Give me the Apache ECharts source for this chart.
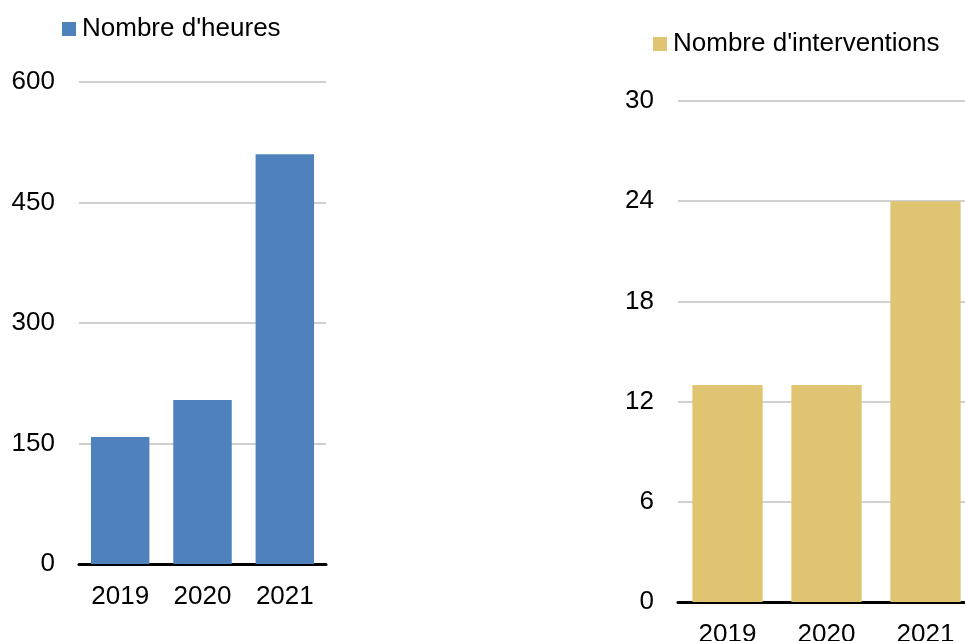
<!DOCTYPE html>
<html>
<head>
<meta charset="utf-8">
<script src="https://cdn.jsdelivr.net/npm/echarts@6/dist/echarts.min.js"></script>
<style>
  html, body { margin: 0; padding: 0; background: #fff; }
  #main { width: 965px; height: 641px; }
</style>
</head>
<body>
<div id="main"></div>
<script>
// data
var years = ["2019", "2020", "2021"];
var heures = [158, 204, 510];
var interventions = [13, 13, 24];

var font = "Liberation Sans, Arial, sans-serif";
var chart = echarts.init(document.getElementById("main"));

function xAxisFor(gridIndex) {
  return {
    type: "category",
    gridIndex: gridIndex,
    data: years,
    axisTick: { show: false },
    axisLine: { lineStyle: { color: "#000", width: 3 } },
    axisLabel: { color: "#000", fontSize: 26, fontFamily: font, margin: 20 }
  };
}
function yAxisFor(gridIndex, max, interval) {
  return {
    type: "value",
    gridIndex: gridIndex,
    min: 0,
    max: max,
    interval: interval,
    axisLine: { show: false },
    axisTick: { show: false },
    splitLine: { lineStyle: { color: "#c0c0c0", width: 1.5 } },
    axisLabel: { color: "#000", fontSize: 26, fontFamily: font, margin: 24, padding: [3, 0, 0, 0] }
  };
}

chart.setOption({
  animation: false,
  grid: [
    { left: 79, width: 247, top: 82, height: 482, outerBoundsMode: "none" },
    { left: 678, width: 297, top: 101, height: 501, outerBoundsMode: "none" }
  ],
  legend: [
    {
      data: ["Nombre d'heures"],
      left: 57, top: 11,
      itemWidth: 14, itemHeight: 14, icon: "rect",
      textStyle: { color: "#000", fontSize: 26, fontFamily: font, padding: [0, 0, 0, 1] }
    },
    {
      data: ["Nombre d'interventions"],
      left: 648, top: 26,
      itemWidth: 14, itemHeight: 14, icon: "rect",
      textStyle: { color: "#000", fontSize: 26, fontFamily: font, padding: [0, 0, 0, 1] }
    }
  ],
  xAxis: [xAxisFor(0), xAxisFor(1)],
  yAxis: [yAxisFor(0, 600, 150), yAxisFor(1, 30, 6)],
  series: [
    {
      name: "Nombre d'heures",
      type: "bar",
      xAxisIndex: 0, yAxisIndex: 0,
      data: heures,
      barCategoryGap: "29%",
      itemStyle: { color: "#4f81bd" }
    },
    {
      name: "Nombre d'interventions",
      type: "bar",
      xAxisIndex: 1, yAxisIndex: 1,
      data: interventions,
      barCategoryGap: "29%",
      itemStyle: { color: "#dfc472" }
    }
  ]
});
</script>
</body>
</html>
